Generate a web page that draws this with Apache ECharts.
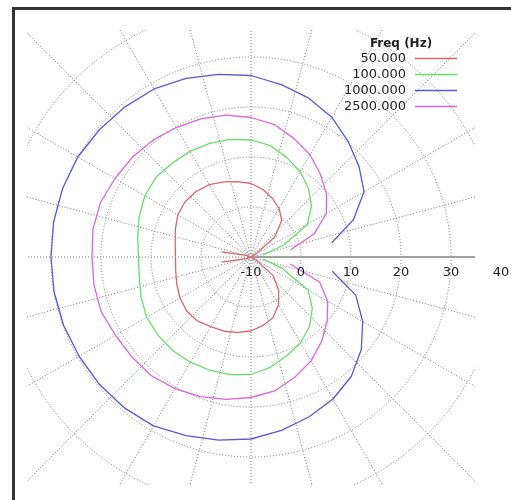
<!DOCTYPE html>
<html><head><meta charset="utf-8">
<script src="https://cdn.jsdelivr.net/npm/echarts@6/dist/echarts.min.js"></script>
<style>html,body{margin:0;padding:0;background:#fff}#c{width:511px;height:500px}</style>
</head><body><div id="c"></div>
<script>
// Angles (degrees) at which the response was measured
const angles = [10,20,30,40,50,60,70,80,90,100,110,120,130,140,150,160,170,180,
  190,200,210,220,230,240,250,260,270,280,290,300,310,320,330,340,350];
const freqLabels = ['50.000','100.000','1000.000','2500.000'];
const legendTitle = 'Freq (Hz)';
const radiusTicks = [-10,0,10,20,30,40];

const level50 = [-16,-11,-9,-3.8,-0.4,1.2,2.5,3.7,4.7,5.3,6.0,6.7,7.1,7.2,6.9,6.1,5.4,5.1,
  5.3,5.8,6.4,6.8,6.7,6.1,5.8,5.3,4.8,3.9,2.9,1.0,-1.4,-4.2,-8.8,-11,-16];
const level100 = [-7.5,-3.0,3.0,5.8,7.9,9.7,11.1,12.6,13.4,13.9,14.2,14.4,14.5,14.8,14.5,13.8,13.0,12.5,
  12.7,13.4,14.1,14.3,14.4,14.3,14.1,13.9,13.5,12.4,11.0,9.8,8.2,6.0,3.2,-3.5,-7.5];
const level1000 = [6.4,11.8,16.1,18.2,20.2,22.3,23.8,25.0,26.3,27.1,28.0,28.8,29.2,29.6,30.0,30.1,30.1,30.0,
  30.0,29.9,29.7,29.6,29.4,29.0,28.0,27.2,26.4,25.2,24.0,22.8,21.2,18.8,15.8,12.3,6.5];
const level2500 = [-2.0,3.4,7.4,9.7,11.6,13.6,15.2,16.9,17.9,18.8,19.4,19.9,20.5,21.0,21.4,22.0,22.1,21.8,
  21.9,21.9,21.3,21.1,21.0,20.4,19.7,18.9,18.1,17.2,15.6,14.0,12.0,9.9,7.7,4.6,-2.0];

const levels = [level50, level100, level1000, level2500];
const colors = ['#e06464', '#66e066', '#5858d8', '#e062e0'];

const FONT = '"DejaVu Sans", Verdana, sans-serif';
const chart = echarts.init(document.getElementById('c'), null, {renderer: 'canvas'});

const gridLine = {show: true, lineStyle: {color: '#777', width: 1, type: [1, 2]}};
const hidden = {show: false};

chart.setOption({
  animation: false,
  backgroundColor: '#fff',
  polar: [
    {center: [251, 257], radius: 250},
    {center: [251, 257], radius: 250},
    {center: [251, 257], radius: 340}
  ],
  angleAxis: [
    {polarIndex: 0, type: 'value', min: 0, max: 360, interval: 15, startAngle: 0, clockwise: false,
     axisLine: hidden, axisTick: hidden, axisLabel: hidden, splitLine: hidden},
    {polarIndex: 1, type: 'value', min: 0, max: 360, startAngle: 0, clockwise: false,
     axisLine: hidden, axisTick: hidden, axisLabel: hidden, splitLine: hidden},
    {polarIndex: 2, type: 'value', min: 0, max: 360, interval: 15, startAngle: 0, clockwise: false,
     axisLine: hidden, axisTick: hidden, axisLabel: hidden, splitLine: gridLine}
  ],
  radiusAxis: [
    {polarIndex: 0, type: 'value', min: radiusTicks[0], max: radiusTicks[radiusTicks.length-1], interval: 10, z: 1,
     axisLine: {show: true, lineStyle: {color: '#a0a0a0', width: 2}},
     axisTick: hidden, axisLabel: hidden,
     splitLine: gridLine},
    {polarIndex: 1, type: 'value', min: radiusTicks[0], max: radiusTicks[radiusTicks.length-1], interval: 10, z: 100,
     axisLine: hidden, axisTick: hidden, splitLine: hidden,
     axisLabel: {show: true, margin: -16, verticalAlign: 'middle', color: '#222', fontSize: 13, fontFamily: FONT}},
    {polarIndex: 2, type: 'value', min: 0, max: 1, show: false,
     axisLine: hidden, axisTick: hidden, axisLabel: hidden, splitLine: hidden}
  ],
  legend: {
    data: freqLabels,
    orient: 'vertical', align: 'right', right: 54, top: 52, padding: 0,
    icon: 'rect', itemWidth: 42, itemHeight: 1.3, itemGap: 3, z: 100,
    textStyle: {color: '#222', fontSize: 13, fontFamily: FONT, padding: [0, 4, 0, 0]}
  },
  graphic: [
    {type: 'rect', z: 50, shape: {x: 0, y: 0, width: 27, height: 500}, style: {fill: '#fff'}},
    {type: 'rect', z: 50, shape: {x: 475, y: 0, width: 40, height: 500}, style: {fill: '#fff'}},
    {type: 'rect', z: 50, shape: {x: 0, y: 0, width: 511, height: 30}, style: {fill: '#fff'}},
    {type: 'rect', z: 50, shape: {x: 0, y: 485, width: 511, height: 20}, style: {fill: '#fff'}},
    {type: 'rect', z: 60, shape: {x: 13.5, y: 8.5, width: 700, height: 700}, style: {fill: null, stroke: '#333', lineWidth: 3}},
    {type: 'text', z: 100, x: 401, y: 44, style: {text: legendTitle, fill: '#222', font: 'bold 12px ' + FONT, align: 'center', verticalAlign: 'middle'}}
  ],
  series: freqLabels.map((name, k) => ({
    name: name,
    type: 'line',
    coordinateSystem: 'polar',
    polarIndex: 0,
    symbol: 'none',
    clip: false,
    z: 10,
    color: colors[k],
    lineStyle: {color: colors[k], width: 1.3},
    data: angles.map((a, i) => [levels[k][i], a])
  }))
});
</script></body></html>
